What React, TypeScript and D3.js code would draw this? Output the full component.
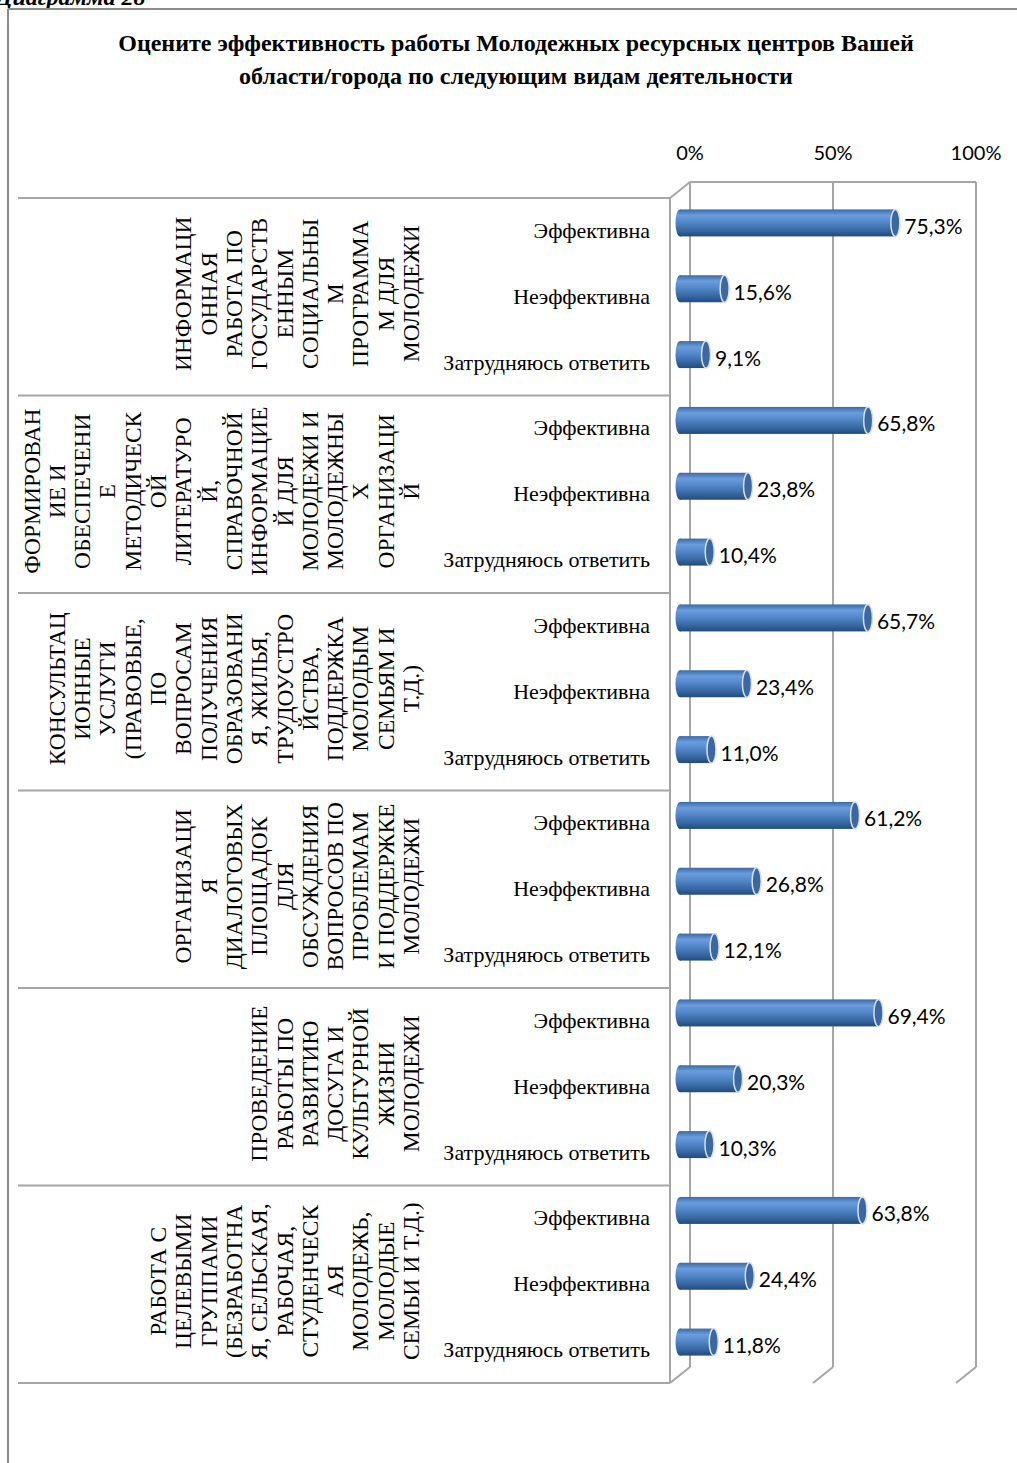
import React from "react";
import * as d3 from "d3";

const groupLabels: string[][] = [
  ["ИНФОРМАЦИ", "ОННАЯ", "РАБОТА ПО", "ГОСУДАРСТВ", "ЕННЫМ", "СОЦИАЛЬНЫ", "М", "ПРОГРАММА", "М ДЛЯ", "МОЛОДЕЖИ"],
  ["ФОРМИРОВАН", "ИЕ И", "ОБЕСПЕЧЕНИ", "Е", "МЕТОДИЧЕСК", "ОЙ", "ЛИТЕРАТУРО", "Й,", "СПРАВОЧНОЙ", "ИНФОРМАЦИЕ", "Й ДЛЯ", "МОЛОДЕЖИ И", "МОЛОДЕЖНЫ", "Х", "ОРГАНИЗАЦИ", "Й"],
  ["КОНСУЛЬТАЦ", "ИОННЫЕ", "УСЛУГИ", "(ПРАВОВЫЕ,", "ПО", "ВОПРОСАМ", "ПОЛУЧЕНИЯ", "ОБРАЗОВАНИ", "Я, ЖИЛЬЯ,", "ТРУДОУСТРО", "ЙСТВА,", "ПОДДЕРЖКА", "МОЛОДЫМ", "СЕМЬЯМ И", "Т.Д.)"],
  ["ОРГАНИЗАЦИ", "Я", "ДИАЛОГОВЫХ", "ПЛОЩАДОК", "ДЛЯ", "ОБСУЖДЕНИЯ", "ВОПРОСОВ ПО", "ПРОБЛЕМАМ", "И ПОДДЕРЖКЕ", "МОЛОДЕЖИ"],
  ["ПРОВЕДЕНИЕ", "РАБОТЫ ПО", "РАЗВИТИЮ", "ДОСУГА И", "КУЛЬТУРНОЙ", "ЖИЗНИ", "МОЛОДЕЖИ"],
  ["РАБОТА С", "ЦЕЛЕВЫМИ", "ГРУППАМИ", "(БЕЗРАБОТНА", "Я, СЕЛЬСКАЯ,", "РАБОЧАЯ,", "СТУДЕНЧЕСК", "АЯ", "МОЛОДЕЖЬ,", "МОЛОДЫЕ", "СЕМЬИ И Т.Д.)"],
];

const categories = ["Эффективна", "Неэффективна", "Затрудняюсь ответить"];
const effective = [75.3, 65.8, 65.7, 61.2, 69.4, 63.8];
const ineffective = [15.6, 23.8, 23.4, 26.8, 20.3, 24.4];
const difficult = [9.1, 10.4, 11.0, 12.1, 10.3, 11.8];
const tickValues = [0, 50, 100];
const titleLines = [
  "Оцените эффективность работы Молодежных ресурсных центров Вашей",
  "области/города по следующим видам деятельности",
];

const W = 1017;
const H = 1463;
const DX = 20;
const DY = -16;

export default function App() {
  const x = d3.scaleLinear().domain([0, 100]).range([670, 956]);
  const groupIds = groupLabels.map((_, i) => String(i));
  const yGroup = d3.scaleBand().domain(groupIds).range([198, 1383]).padding(0);
  const yCat = d3.scaleBand().domain(categories).range([0, yGroup.bandwidth()]).padding(0);
  const seriesByCat = [effective, ineffective, difficult];
  const fmt = (v: number) => v.toFixed(1).replace(".", ",") + "%";

  const grid = "#a6a6a6";
  const barH = yCat.bandwidth() * 0.41;
  const ry = barH / 2;
  const rx = 4.5;

  const bars: any[] = [];
  groupIds.forEach((g, gi) => {
    categories.forEach((c, ci) => {
      const v = seriesByCat[ci][gi];
      const cy = (yGroup(g) as number) + (yCat(c) as number) + yCat.bandwidth() / 2 + DY / 2;
      const x0 = x(0) + DX / 2;
      const x1 = x(v) + DX / 2;
      bars.push({ key: g + "-" + ci, v, cy, x0, x1 });
    });
  });

  const labelLineGap = 25.3;
  const lastLineX = 411;

  return (
    <svg width={W} height={H} style={{ position: "absolute", left: 0, top: 0, background: "#fff" }}>
      <defs>
        <linearGradient id="cyl" x1="0" y1="0" x2="0" y2="1">
          <stop offset="0%" stopColor="#3b6aa6" />
          <stop offset="22%" stopColor="#6a9ddd" />
          <stop offset="45%" stopColor="#5589cb" />
          <stop offset="80%" stopColor="#35659f" />
          <stop offset="100%" stopColor="#234a7c" />
        </linearGradient>
      </defs>
      <rect x={0} y={0} width={W} height={H} fill="#fff" />
      {/* caption (cut off at the top in the reference) */}
      <text x={-4} y={5} fontFamily="Liberation Serif" fontStyle="italic" fontWeight="bold" fontSize={24} fill="#000">
        Диаграмма 28
      </text>
      {/* outer frame */}
      <line x1={8} y1={9} x2={W} y2={9} stroke="#8c8c8c" strokeWidth={2} />
      <line x1={8} y1={9} x2={8} y2={H} stroke="#8c8c8c" strokeWidth={2} />

      {/* title */}
      {titleLines.map((t, i) => (
        <text key={i} x={516} y={51 + i * 33} textAnchor="middle" fontFamily="Liberation Serif" fontWeight="bold" fontSize={24} fill="#000">
          {t}
        </text>
      ))}

      {/* tick labels */}
      {tickValues.map((t) => (
        <text key={t} x={x(t) + DX} y={160} textAnchor="middle" fontFamily="Lato" fontSize={20} fill="#000">
          {t + "%"}
        </text>
      ))}

      {/* back wall gridlines */}
      <line x1={x(0) + DX} y1={198 + DY} x2={x(100) + DX} y2={198 + DY} stroke={grid} strokeWidth={2} />
      {tickValues.map((t) => (
        <g key={"g" + t}>
          <line x1={x(t) + DX} y1={198 + DY} x2={x(t) + DX} y2={1383 + DY} stroke={grid} strokeWidth={2} />
          <line x1={x(t) + DX} y1={1383 + DY} x2={x(t)} y2={1383} stroke={grid} strokeWidth={2} />
        </g>
      ))}
      <line x1={x(0)} y1={198} x2={x(0) + DX} y2={198 + DY} stroke={grid} strokeWidth={2} />
      <line x1={x(0)} y1={198} x2={x(0)} y2={1383} stroke={grid} strokeWidth={2} />

      {/* group separators */}
      {[...groupIds.map((g) => yGroup(g) as number), 1383].map((yy, i) => (
        <line key={"s" + i} x1={18} y1={yy} x2={x(0)} y2={yy} stroke={grid} strokeWidth={2} />
      ))}

      {/* group labels */}
      {groupLabels.map((lines, gi) => {
        const cy = (yGroup(String(gi)) as number) + yGroup.bandwidth() / 2 - 3;
        return lines.map((ln, li) => {
          const lx = lastLineX - (lines.length - 1 - li) * labelLineGap;
          return (
            <text
              key={gi + "-" + li}
              transform={`translate(${lx},${cy}) rotate(-90)`}
              textAnchor="middle"
              dominantBaseline="central"
              fontFamily="Liberation Serif"
              fontSize={23.5}
              fill="#000"
            >
              {ln}
            </text>
          );
        });
      })}

      {/* category labels */}
      {groupIds.map((g) =>
        categories.map((c) => (
          <text
            key={g + c}
            x={650}
            y={(yGroup(g) as number) + (yCat(c) as number) + yCat.bandwidth() / 2 + 7}
            textAnchor="end"
            fontFamily="Liberation Serif"
            fontSize={22}
            fill="#000"
          >
            {c}
          </text>
        ))
      )}

      {/* bars */}
      {bars.map((b) => (
        <g key={b.key}>
          <ellipse cx={b.x0} cy={b.cy} rx={rx} ry={ry} fill="url(#cyl)" />
          <rect x={b.x0} y={b.cy - ry} width={b.x1 - b.x0} height={barH} fill="url(#cyl)" />
          <ellipse cx={b.x1} cy={b.cy} rx={rx} ry={ry} fill="#3c679f" stroke="#d4e1f1" strokeWidth={1.5} />
          <text x={b.x1 + 9} y={b.cy + 11} fontFamily="Lato" fontSize={21} fill="#000">
            {fmt(b.v)}
          </text>
        </g>
      ))}
    </svg>
  );
}
